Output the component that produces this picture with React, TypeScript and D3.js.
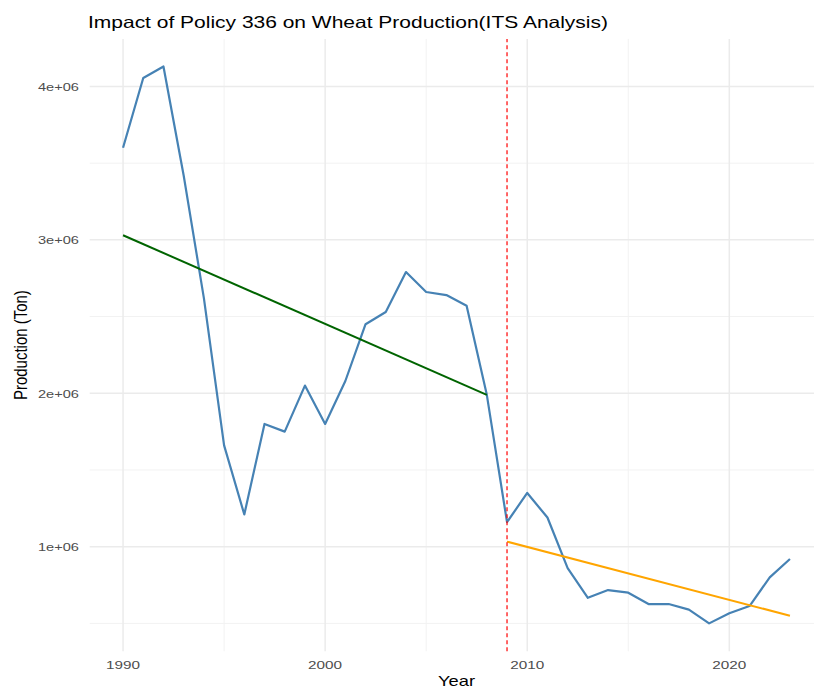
import { useEffect, useRef } from "react";
import * as d3 from "d3";

const years = [
  1990, 1991, 1992, 1993, 1994, 1995, 1996, 1997, 1998, 1999, 2000, 2001,
  2002, 2003, 2004, 2005, 2006, 2007, 2008, 2009, 2010, 2011, 2012, 2013,
  2014, 2015, 2016, 2017, 2018, 2019, 2020, 2021, 2022, 2023,
];
const production = [
  3.6e6, 4.055e6, 4.13e6, 3.42e6, 2.62e6, 1.66e6, 1.21e6, 1.8e6, 1.75e6,
  2.05e6, 1.8e6, 2.08e6, 2.45e6, 2.53e6, 2.79e6, 2.66e6, 2.64e6, 2.57e6,
  1.99e6, 1.16e6, 1.35e6, 1.19e6, 0.86e6, 0.667e6, 0.717e6, 0.7e6, 0.626e6,
  0.626e6, 0.59e6, 0.5e6, 0.566e6, 0.613e6, 0.8e6, 0.92e6,
];

// fitted segments (ITS)
const preYears = [1990, 2008];
const preFit = [3.03e6, 1.99e6];
const postYears = [2009, 2023];
const postFit = [1.033e6, 0.55e6];

const policyYear = 2009;

const xMajor = [1990, 2000, 2010, 2020];
const xMinor = [1995, 2005, 2015];
const yMajor = [1e6, 2e6, 3e6, 4e6];
const yMinor = [0.5e6, 1.5e6, 2.5e6, 3.5e6];
const yLabels = ["1e+06", "2e+06", "3e+06", "4e+06"];

const App = () => {
  const svgRef = useRef<SVGSVGElement | null>(null);

  useEffect(() => {
    const svg = d3.select(svgRef.current);
    svg.selectAll("*").remove();

    const font = "'Liberation Sans', Arial, sans-serif";

    const x = d3.scaleLinear().domain([1988.35, 2024.65]).range([89.7, 823.3]);
    const y = d3.scaleLinear().domain([0.318e6, 4.31e6]).range([651.3, 38.9]);

    const [x0, x1] = x.range();
    const [y0, y1] = y.range();

    // grid
    const grid = svg.append("g");
    grid
      .selectAll(".ymin")
      .data(yMinor)
      .enter()
      .append("line")
      .attr("x1", x0)
      .attr("x2", x1)
      .attr("y1", (d) => y(d))
      .attr("y2", (d) => y(d))
      .attr("stroke", "#F2F2F2")
      .attr("stroke-width", 1);
    grid
      .selectAll(".xmin")
      .data(xMinor)
      .enter()
      .append("line")
      .attr("x1", (d) => x(d))
      .attr("x2", (d) => x(d))
      .attr("y1", y0)
      .attr("y2", y1)
      .attr("stroke", "#F2F2F2")
      .attr("stroke-width", 1);
    grid
      .selectAll(".ymaj")
      .data(yMajor)
      .enter()
      .append("line")
      .attr("x1", x0)
      .attr("x2", x1)
      .attr("y1", (d) => y(d))
      .attr("y2", (d) => y(d))
      .attr("stroke", "#EBEBEB")
      .attr("stroke-width", 1.5);
    grid
      .selectAll(".xmaj")
      .data(xMajor)
      .enter()
      .append("line")
      .attr("x1", (d) => x(d))
      .attr("x2", (d) => x(d))
      .attr("y1", y0)
      .attr("y2", y1)
      .attr("stroke", "#EBEBEB")
      .attr("stroke-width", 1.5);

    // observed series
    const line = d3
      .line<number>()
      .x((_, i) => x(years[i]))
      .y((d) => y(d));
    svg
      .append("path")
      .datum(production)
      .attr("d", line)
      .attr("fill", "none")
      .attr("stroke", "steelblue")
      .attr("stroke-width", 2.2)
      .attr("stroke-linejoin", "round");

    // fitted lines
    const fit = (xs: number[]) =>
      d3
        .line<number>()
        .x((_, i) => x(xs[i]))
        .y((d) => y(d));
    svg
      .append("path")
      .datum(preFit)
      .attr("d", fit(preYears))
      .attr("fill", "none")
      .attr("stroke", "darkgreen")
      .attr("stroke-width", 2);
    svg
      .append("path")
      .datum(postFit)
      .attr("d", fit(postYears))
      .attr("fill", "none")
      .attr("stroke", "orange")
      .attr("stroke-width", 2);

    // intervention line
    svg
      .append("line")
      .attr("x1", x(policyYear))
      .attr("x2", x(policyYear))
      .attr("y1", y0)
      .attr("y2", y1)
      .attr("stroke", "red")
      .attr("stroke-width", 1.2)
      .attr("stroke-dasharray", "4,3");

    // tick labels (the reference text is drawn wide, so stretch it)
    svg
      .selectAll(".ylab")
      .data(yMajor)
      .enter()
      .append("text")
      .attr("x", 79)
      .attr("y", (d) => y(d))
      .attr("dy", "0.38em")
      .attr("text-anchor", "end")
      .attr("font-family", font)
      .attr("font-size", 11.5)
      .attr("fill", "#4D4D4D")
      .attr("textLength", 41)
      .attr("lengthAdjust", "spacingAndGlyphs")
      .text((_, i) => yLabels[i]);
    svg
      .selectAll(".xlab")
      .data(xMajor)
      .enter()
      .append("text")
      .attr("x", (d) => x(d))
      .attr("y", 669)
      .attr("text-anchor", "middle")
      .attr("font-family", font)
      .attr("font-size", 11.5)
      .attr("fill", "#4D4D4D")
      .attr("textLength", 34)
      .attr("lengthAdjust", "spacingAndGlyphs")
      .text((d) => String(d));

    // axis titles
    svg
      .append("text")
      .attr("x", (x0 + x1) / 2)
      .attr("y", 686)
      .attr("text-anchor", "middle")
      .attr("font-family", font)
      .attr("font-size", 15)
      .attr("fill", "#000")
      .attr("textLength", 37)
      .attr("lengthAdjust", "spacingAndGlyphs")
      .text("Year");
    svg
      .append("text")
      .attr("transform", `translate(27,${(y0 + y1) / 2}) scale(1.2,1) rotate(-90)`)
      .attr("text-anchor", "middle")
      .attr("font-family", font)
      .attr("font-size", 15)
      .attr("fill", "#000")
      .text("Production (Ton)");

    // title
    svg
      .append("text")
      .attr("x", 88)
      .attr("y", 28)
      .attr("font-family", font)
      .attr("font-size", 16.5)
      .attr("fill", "#000")
      .attr("textLength", 520)
      .attr("lengthAdjust", "spacingAndGlyphs")
      .text("Impact of Policy 336 on Wheat Production(ITS Analysis)");
  }, []);

  return (
    <svg
      ref={svgRef}
      width={814}
      height={689}
      style={{ position: "absolute", left: 0, top: 0, background: "#fff" }}
    ></svg>
  );
};

export default App;
